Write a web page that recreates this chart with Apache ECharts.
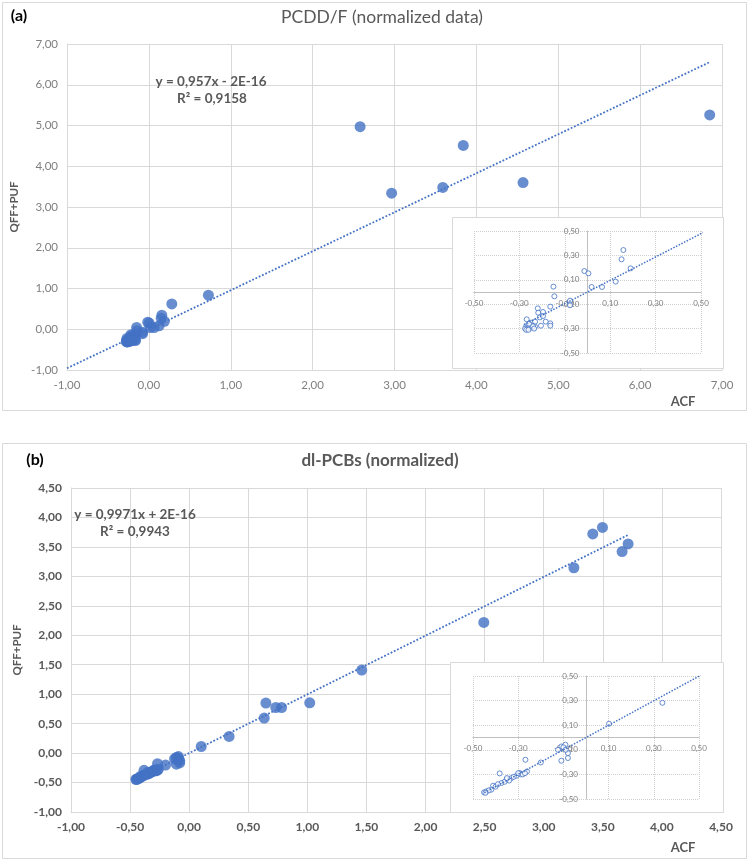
<!DOCTYPE html>
<html><head><meta charset="utf-8">
<script src="https://cdn.jsdelivr.net/npm/echarts@6/dist/echarts.min.js"></script>
<style>html,body{margin:0;padding:0;background:#fff}#c{width:749px;height:866px}</style>
</head><body><div id="c"></div>
<script>
// ---------- DATA ----------
// Panel (a) PCDD/F : [ACF, QFF+PUF]
const pointsA = [
  [2.58,4.97],[2.965,3.34],[3.59,3.48],[3.84,4.51],[4.57,3.60],[6.85,5.26],
  [0.727,0.835],[0.28,0.62],
  [0.158,0.344],[0.15,0.268],[0.19,0.194],[-0.014,0.172],[0.004,0.153],[0.124,0.085],
  [0.018,0.041],[0.064,0.041],[-0.15,0.044],[-0.146,-0.035],[-0.077,-0.071],[-0.077,-0.109],
  [-0.164,-0.12],[-0.219,-0.134],[-0.217,-0.17],[-0.196,-0.164],[-0.21,-0.208],[-0.196,-0.197],
  [-0.184,-0.243],[-0.164,-0.257],[-0.164,-0.276],[-0.205,-0.276],[-0.231,-0.284],[-0.268,-0.224],
  [-0.249,-0.251],[-0.231,-0.243],[-0.27,-0.28],[-0.265,-0.29],[-0.26,-0.3],[-0.275,-0.3],
  [-0.255,-0.285],[-0.25,-0.27],[-0.245,-0.29],[-0.27,-0.31],[-0.26,-0.31],[-0.24,-0.28],
  [-0.258,-0.26],[-0.235,-0.3]
];
// Panel (b) dl-PCBs : [ACF, QFF+PUF]
const pointsB = [
  [3.497,3.83],[3.415,3.72],[3.714,3.55],[3.663,3.42],[3.255,3.146],[2.493,2.218],
  [1.46,1.41],[1.02,0.854],[0.649,0.849],[0.635,0.594],[0.733,0.774],[0.782,0.774],
  [0.338,0.282],[0.102,0.112],
  [-0.109,-0.073],[-0.091,-0.059],[-0.124,-0.1],[-0.08,-0.127],[-0.08,-0.167],[-0.109,-0.189],
  [-0.1,-0.08],[-0.09,-0.1],
  [-0.2,-0.203],[-0.268,-0.181],[-0.261,-0.276],[-0.382,-0.292],[-0.293,-0.289],[-0.308,-0.311],
  [-0.33,-0.33],[-0.352,-0.343],[-0.374,-0.37],[-0.411,-0.392],[-0.419,-0.424],[-0.441,-0.438],
  [-0.451,-0.446],[-0.32,-0.32],[-0.34,-0.35],[-0.36,-0.36],[-0.29,-0.3],[-0.28,-0.3],
  [-0.3,-0.29],[-0.35,-0.33],[-0.4,-0.4],[-0.43,-0.43],[-0.445,-0.45],[-0.39,-0.38],[-0.27,-0.29]
];
// Trendline end points
const trendA = [[-1,-0.957],[6.85,6.555]];
const trendInsetA = [[-0.28,-0.268],[6.85,6.555]];
const trendB = [[-0.45,-0.449],[3.71,3.699]];
// Tick values
const insetTicks = [-0.5,-0.3,-0.1,0.1,0.3,0.5];
// Texts
const titleA = 'PCDD/F (normalized data)';
const titleB = 'dl-PCBs (normalized)';
const eqA = ['y = 0,957x - 2E-16', 'R² = 0,9158'];
const eqB = ['y = 0,9971x + 2E-16', 'R² = 0,9943'];

// ---------- CHART ----------
const FONT = 'Lato, "Liberation Sans", sans-serif';
const BLUE = '#4472C4';
const fmt = v => v.toFixed(2).replace('.', ',');
const chart = echarts.init(document.getElementById('c'), null, {renderer:'canvas'});

function mainAxis(grid, min, max, interval, bold, extra) {
  return Object.assign({
    type:'value', gridIndex:grid, min, max, interval,
    axisLine:{show:true, onZero:false, lineStyle:{color:'#d9d9d9', width:1}},
    axisTick:{show:false},
    splitLine:{show:true, lineStyle:{color:'#d9d9d9', width:1}},
    axisLabel:{color: bold ? '#595959' : '#7f7f7f', fontSize: bold ? 12 : 11.5, fontFamily:FONT,
      fontWeight: bold ? 'bold' : 'normal', margin:9, formatter:fmt,
      showMinLabel:true, showMaxLabel:true}
  }, extra || {});
}
// inset axes: centred line (zero) via offset, since range is symmetric
function insetAxis(grid, margin, off) {
  return {
    type:'value', gridIndex:grid, min:-0.5, max:0.5, z:60, offset:off,
    axisLine:{show:true, onZero:false, lineStyle:{color:'#bfbfbf', width:1}},
    axisTick:{show:false, customValues:insetTicks},
    splitLine:{show:true, lineStyle:{color:'#cfcfcf', width:1, type:'dotted'}},
    axisLabel:{customValues:insetTicks, color:'#7f7f7f', fontSize:8, fontFamily:FONT,
      margin:margin, formatter:fmt, showMinLabel:true, showMaxLabel:true, hideOverlap:false}
  };
}
const yName = (gap) => ({name:'QFF+PUF', nameLocation:'middle', nameGap:gap, nameRotate:90,
  nameTextStyle:{color:'#595959', fontWeight:'bold', fontSize:11.5, fontFamily:FONT}});

const txt = (text, x, y, font, color, align) => ({
  type:'text', x, y, z:100,
  style:{text, fill:color, font, textAlign:align||'center', textVerticalAlign:'middle',
    align:align||'center', verticalAlign:'middle'}
});

const option = {
  animation:false,
  backgroundColor:'#fff',
  grid:[
    {left:67, top:44, width:655, height:326},
    {left:474, top:231, width:227, height:122, z:60},
    {left:71, top:488, width:650, height:324},
    {left:473, top:676, width:226, height:123, z:60}
  ],
  xAxis:[
    mainAxis(0, -1, 7, 1, false),
    insetAxis(1, 7, -61),
    mainAxis(2, -1, 4.5, 0.5, true),
    insetAxis(3, 7, -61.5)
  ],
  yAxis:[
    mainAxis(0, -1, 7, 1, false, yName(44)),
    insetAxis(1, 8, -113.5),
    mainAxis(2, -1, 4.5, 0.5, true, yName(46)),
    insetAxis(3, 8, -113)
  ],
  series:[
    {type:'scatter', xAxisIndex:0, yAxisIndex:0, data:pointsA, symbolSize:11,
      itemStyle:{color:BLUE}, z:2, silent:true},
    {type:'line', xAxisIndex:0, yAxisIndex:0, data:trendA, symbol:'none', z:3, silent:true,
      lineStyle:{color:BLUE, width:1.8, type:'dotted'}},
    {type:'scatter', xAxisIndex:1, yAxisIndex:1, data:pointsA, symbolSize:5, clip:true,
      itemStyle:{color:'#fff', borderColor:BLUE, borderWidth:1}, z:70, silent:true},
    {type:'line', xAxisIndex:1, yAxisIndex:1, data:trendInsetA, symbol:'none', clip:true, z:71, silent:true,
      lineStyle:{color:BLUE, width:1.5, type:'dotted'}},
    {type:'scatter', xAxisIndex:2, yAxisIndex:2, data:pointsB, symbolSize:11,
      itemStyle:{color:BLUE}, z:2, silent:true},
    {type:'line', xAxisIndex:2, yAxisIndex:2, data:trendB, symbol:'none', z:3, silent:true,
      lineStyle:{color:BLUE, width:1.8, type:'dotted'}},
    {type:'scatter', xAxisIndex:3, yAxisIndex:3, data:pointsB, symbolSize:5, clip:true,
      itemStyle:{color:'#fff', borderColor:BLUE, borderWidth:1}, z:70, silent:true},
    {type:'line', xAxisIndex:3, yAxisIndex:3, data:trendB, symbol:'none', clip:true, z:71, silent:true,
      lineStyle:{color:BLUE, width:1.5, type:'dotted'}}
  ],
  graphic:{elements:[
    {type:'rect', z:-10, shape:{x:2.5, y:2.5, width:744, height:408}, style:{fill:null, stroke:'#d9d9d9', lineWidth:1}},
    {type:'rect', z:-10, shape:{x:2.5, y:443.5, width:744, height:415}, style:{fill:null, stroke:'#d9d9d9', lineWidth:1}},
    {type:'rect', z:50, shape:{x:452.5, y:217.5, width:271, height:151}, style:{fill:'#fff', stroke:'#d9d9d9', lineWidth:1}},
    {type:'rect', z:50, shape:{x:450.5, y:662.5, width:273, height:150}, style:{fill:'#fff', stroke:'#d9d9d9', lineWidth:1}},
    txt('(a)', 19, 16, 'bold 16px ' + FONT, '#000'),
    txt('(b)', 35, 460, 'bold 16px ' + FONT, '#000'),
    txt(titleA, 382, 17, '17.5px ' + FONT, '#595959'),
    txt(titleB, 380, 461, 'bold 17px ' + FONT, '#595959'),
    txt(eqA[0], 211, 82, 'bold 13.5px ' + FONT, '#595959'),
    txt(eqA[1], 212, 99, 'bold 13.5px ' + FONT, '#595959'),
    txt(eqB[0], 135, 515, 'bold 13.5px ' + FONT, '#595959'),
    txt(eqB[1], 135, 532, 'bold 13.5px ' + FONT, '#595959'),
    txt('ACF', 683, 402, 'bold 13px ' + FONT, '#595959'),
    txt('ACF', 683, 848, 'bold 13px ' + FONT, '#595959')
  ]}
};
chart.setOption(option);
</script></body></html>
